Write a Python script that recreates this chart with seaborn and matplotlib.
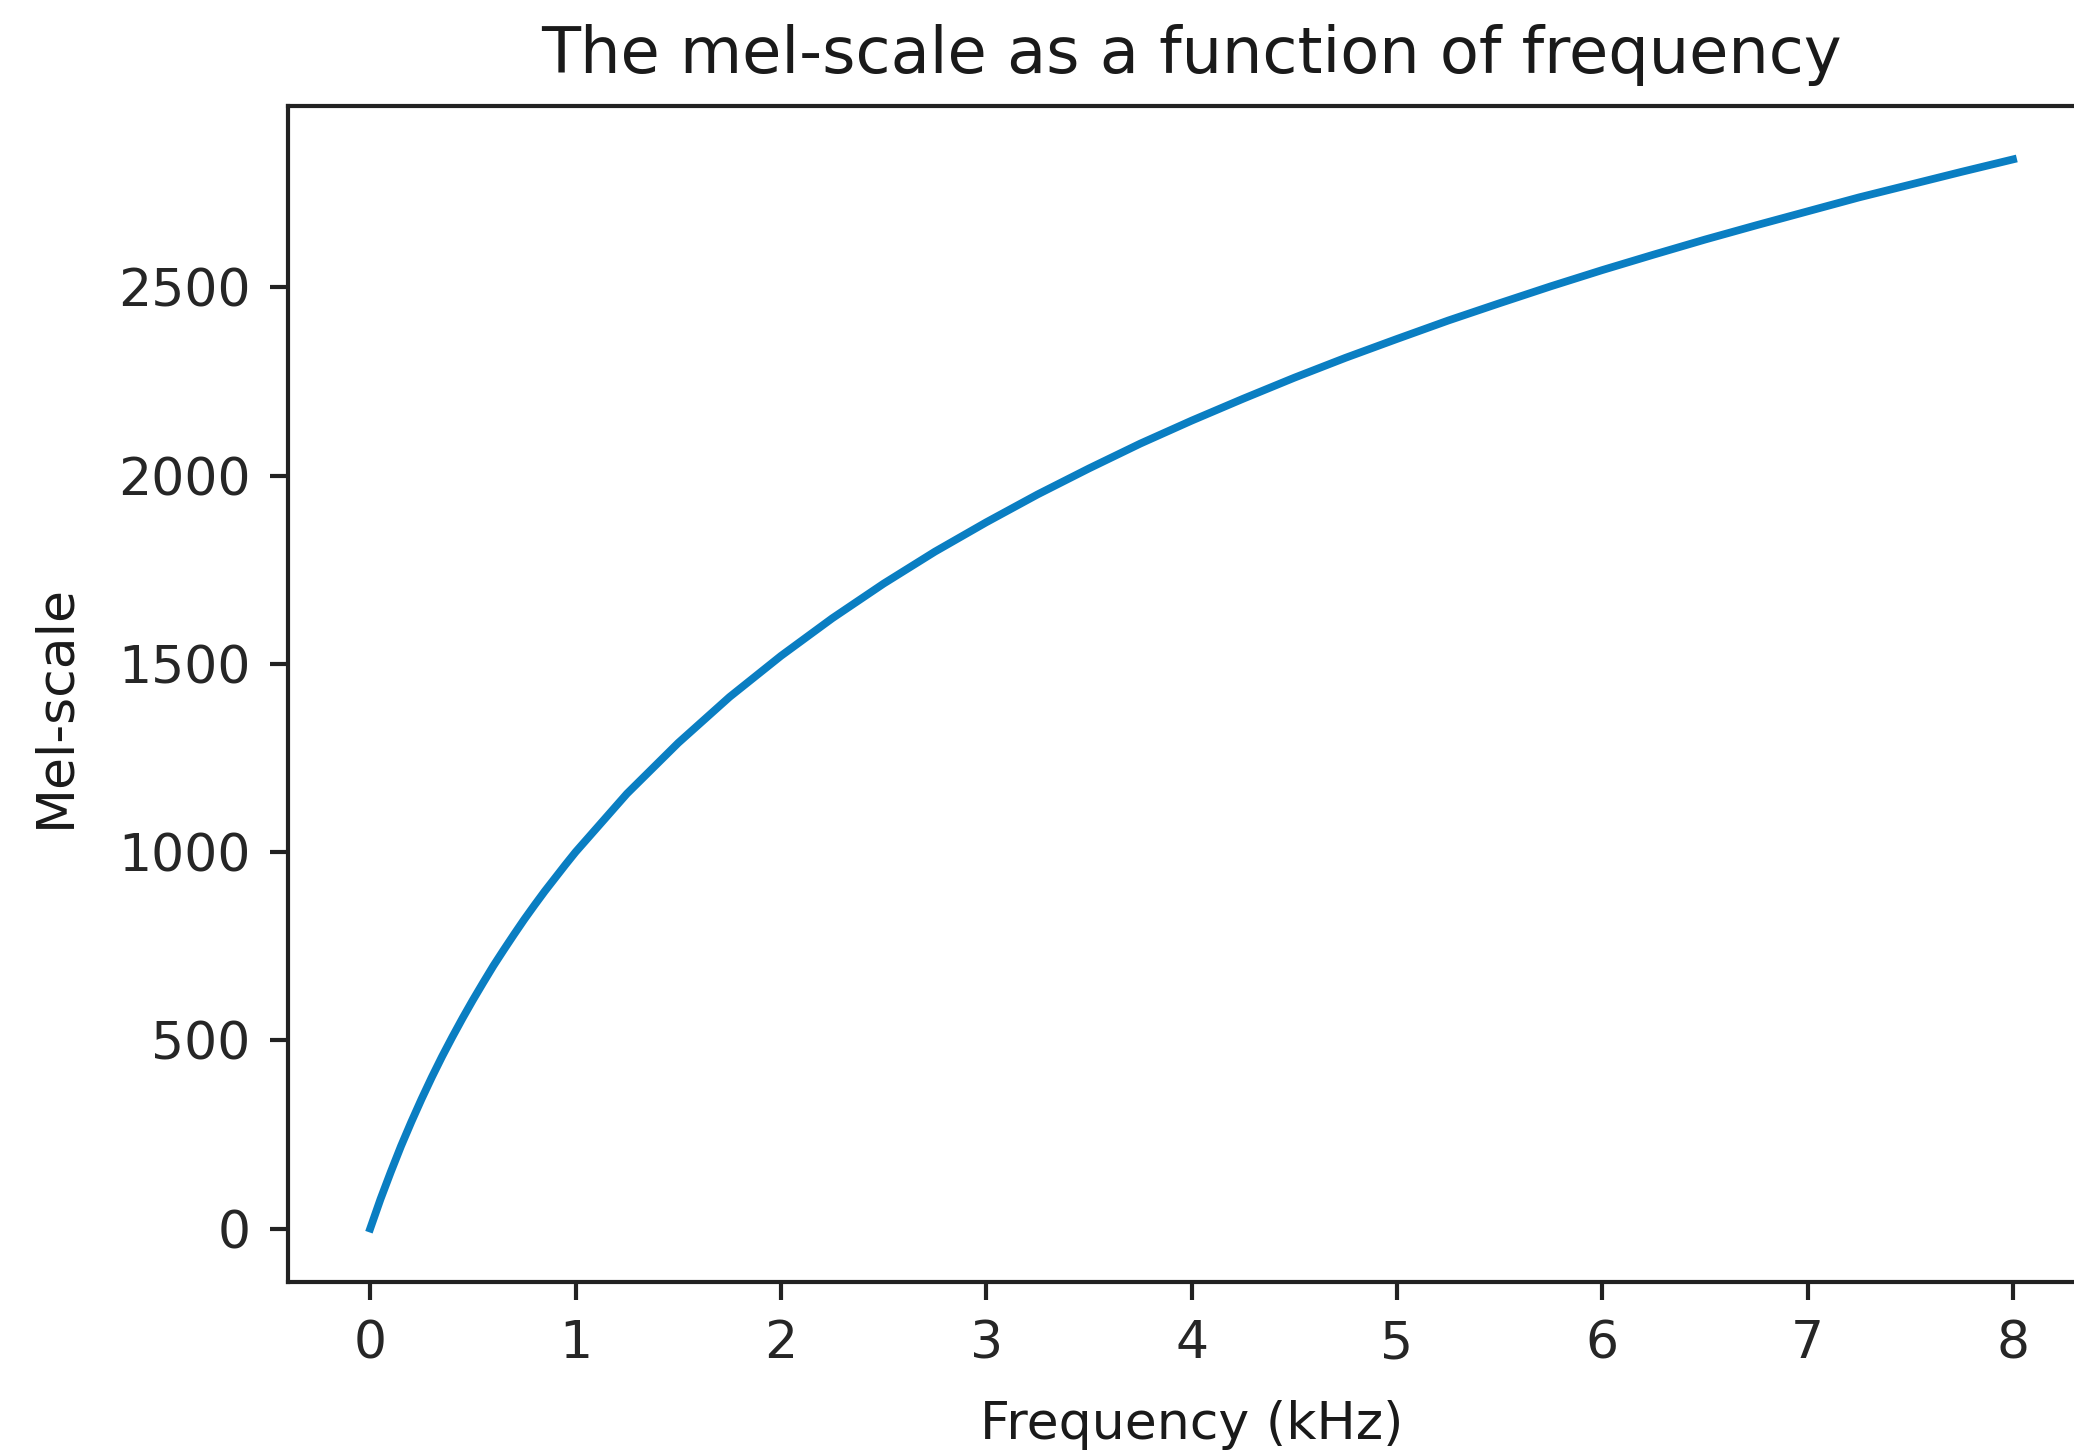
import matplotlib
import pandas as pd

matplotlib.use("Agg")
import matplotlib.pyplot as plt
import seaborn as sns

# values (kHz -> mel)
freq_khz = [0, 0.05, 0.1, 0.15, 0.2, 0.25, 0.3, 0.35, 0.4, 0.45, 0.5,
            0.55, 0.6, 0.65, 0.7, 0.75, 0.8, 0.85, 0.9, 0.95, 1.0,
            1.25, 1.5, 1.75, 2.0, 2.25, 2.5, 2.75, 3.0, 3.25, 3.5, 3.75,
            4.0, 4.25, 4.5, 4.75, 5.0, 5.25, 5.5, 5.75, 6.0, 6.25, 6.5,
            6.75, 7.0, 7.25, 7.5, 7.75, 8.0]
mel = [0, 78, 150, 219, 283, 344, 402, 457, 509, 559, 607,
       653, 698, 740, 781, 821, 859, 896, 931, 966, 1000,
       1155, 1290, 1412, 1521, 1621, 1713, 1798, 1876, 1950, 2019, 2085,
       2146, 2204, 2260, 2313, 2363, 2412, 2458, 2503, 2546, 2587, 2627,
       2665, 2702, 2739, 2773, 2807, 2840]
x_ticks = [0, 1, 2, 3, 4, 5, 6, 7, 8]
y_ticks = [0, 500, 1000, 1500, 2000, 2500]

df = pd.DataFrame({"freq": freq_khz, "mel": mel})

plt.rcParams["font.family"] = ["DejaVu Sans"]
plt.rcParams["axes.linewidth"] = 3.0

fig = plt.figure(figsize=(20.74, 14.53), dpi=100)
ax = fig.add_axes([0.1389, 0.1177, 0.8713, 0.8094])

sns.lineplot(data=df, x="freq", y="mel", ax=ax, color="#0a7ec2", linewidth=5.6)

ax.set_xticks(x_ticks)
ax.set_yticks(y_ticks)
ax.tick_params(axis="both", labelsize=37.5, length=13, width=3, pad=14,
               colors="#222222", labelcolor="#262626")
for s in ax.spines.values():
    s.set_color("#222222")

ax.set_title("The mel-scale as a function of frequency", fontsize=46, pad=24,
             color="#1a1a1a")
ax.set_xlabel("Frequency (kHz)", fontsize=37.5, labelpad=22, color="#1a1a1a")
ax.set_ylabel("Mel-scale", fontsize=37.5, color="#1a1a1a")
ax.yaxis.set_label_coords(-0.115, 0.49)

fig.savefig("out.png", dpi=100)
plt.close(fig)
